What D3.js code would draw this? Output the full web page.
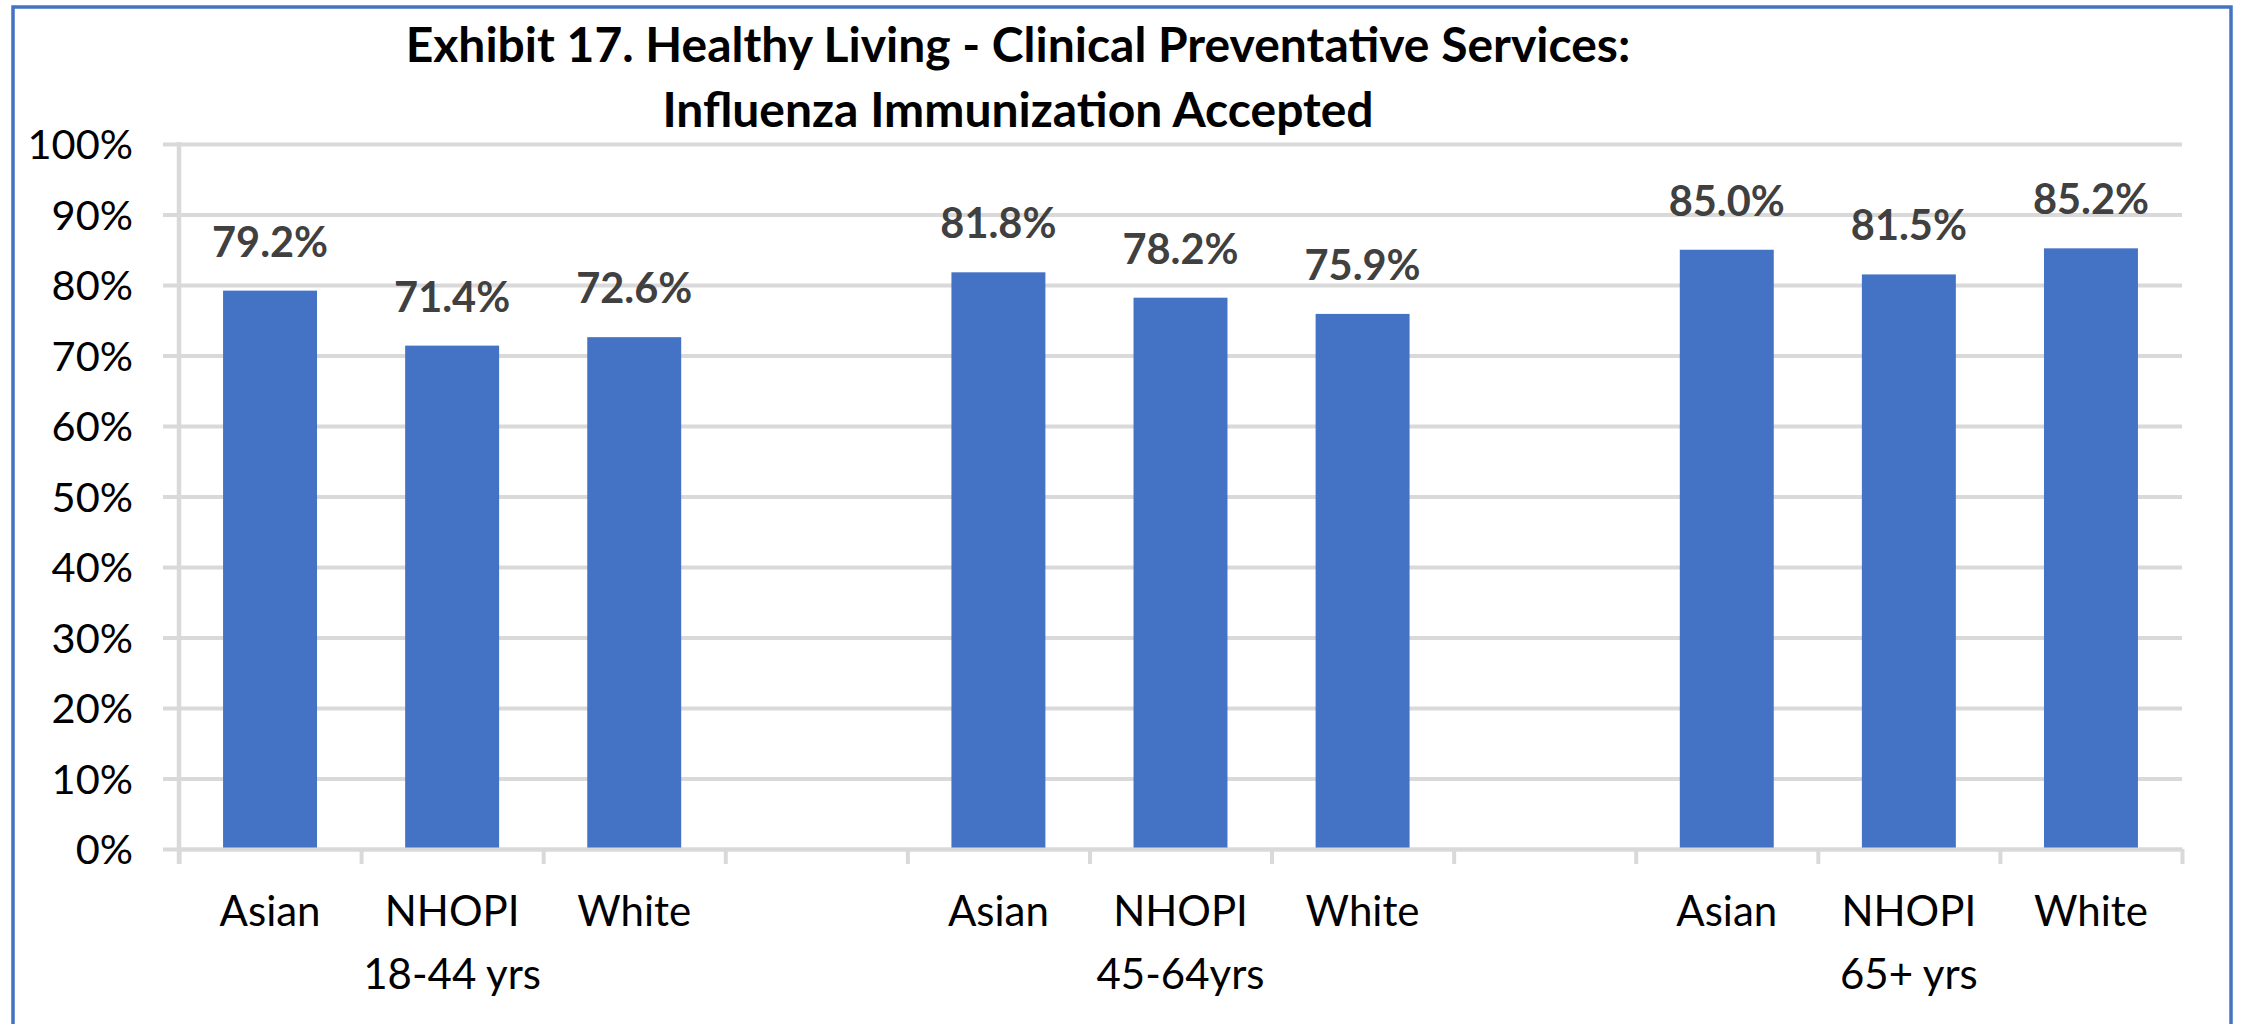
<!DOCTYPE html>
<html>
<head>
<meta charset="utf-8">
<script src="https://cdn.jsdelivr.net/npm/d3@7"></script>
<style>
  html, body { margin: 0; padding: 0; background: #fff; }
  svg { display: block; }
  text { font-family: Lato, "Open Sans", sans-serif; }
</style>
</head>
<body>
<svg id="chart" width="2242" height="1024"></svg>
<script>
// Age groups, race categories within each group, and accepted-immunization rates (%)
const groups = ["18-44 yrs", "45-64yrs", "65+ yrs"];
const races = ["Asian", "NHOPI", "White"];
const asianValues = [79.2, 81.8, 85.0];
const nhopiValues = [71.4, 78.2, 81.5];
const whiteValues = [72.6, 75.9, 85.2];
const yTickValues = [0, 10, 20, 30, 40, 50, 60, 70, 80, 90, 100];
const titleLines = [
  "Exhibit 17. Healthy Living - Clinical Preventative Services:",
  "Influenza Immunization Accepted"
];

const seriesByRace = { Asian: asianValues, NHOPI: nhopiValues, White: whiteValues };

// One slot per bar, with an empty spacer slot between age groups
const slots = [];
groups.forEach((g, gi) => {
  races.forEach(r => slots.push({ key: g + "|" + r, group: g, race: r, value: seriesByRace[r][gi] }));
  if (gi < groups.length - 1) slots.push({ key: "gap" + gi, spacer: true });
});

const plot = { left: 179, right: 2182, top: 144, bottom: 849 };
const barColor = "#4472C4";
const gridColor = "#d9d9d9";
const labelSize = "41.5px";

const svg = d3.select("#chart");

// Outer chart frame (bottom edge lies below the visible area)
svg.append("rect")
  .attr("x", 13).attr("y", 7)
  .attr("width", 2218).attr("height", 1040)
  .attr("fill", "none")
  .attr("stroke", barColor)
  .attr("stroke-width", 3.5);

const x = d3.scaleBand()
  .domain(slots.map(s => s.key))
  .range([plot.left, plot.right])
  .paddingInner(0).paddingOuter(0);

const slotEdge = d3.scaleLinear()
  .domain([0, slots.length])
  .range([plot.left, plot.right]);

const y = d3.scaleLinear()
  .domain([0, 100])
  .range([plot.bottom, plot.top]);

// Horizontal gridlines + percent labels
const gridExtend = 16;
const yAxis = d3.axisLeft(y)
  .tickValues(yTickValues)
  .tickFormat(d => d + "%")
  .tickSize(plot.right - plot.left + gridExtend)
  .tickPadding(30);

const gy = svg.append("g")
  .attr("transform", `translate(${plot.right},0)`)
  .call(yAxis);
gy.select(".domain").remove();
gy.selectAll(".tick line")
  .attr("stroke", gridColor)
  .attr("stroke-width", 4);
gy.selectAll(".tick text")
  .attr("fill", "#000")
  .style("font-size", labelSize)
  .attr("dy", "0.36em");

// Bars
const barWidth = x.bandwidth() * 0.516;
const bars = slots.filter(s => !s.spacer);

svg.append("g").selectAll("rect")
  .data(bars)
  .join("rect")
  .attr("x", d => x(d.key) + (x.bandwidth() - barWidth) / 2)
  .attr("width", barWidth)
  .attr("y", d => y(d.value))
  .attr("height", d => y(0) - y(d.value))
  .attr("fill", barColor);

// Category axis: tick marks at every slot boundary
const xAxis = d3.axisBottom(slotEdge)
  .tickValues(d3.range(slots.length + 1))
  .tickFormat("")
  .tickSize(15)
  .tickSizeOuter(0);

const gx = svg.append("g")
  .attr("transform", `translate(0,${plot.bottom})`)
  .call(xAxis);
gx.select(".domain")
  .attr("stroke", gridColor)
  .attr("stroke-width", 4);
gx.selectAll(".tick line")
  .attr("stroke", gridColor)
  .attr("stroke-width", 4);

// Value axis line
svg.append("line")
  .attr("x1", plot.left).attr("x2", plot.left)
  .attr("y1", y(100) - 2).attr("y2", plot.bottom + 15)
  .attr("stroke", gridColor)
  .attr("stroke-width", 4.5);

// Value labels above bars
svg.append("g").selectAll("text")
  .data(bars)
  .join("text")
  .attr("x", d => x(d.key) + x.bandwidth() / 2)
  .attr("y", d => y(d.value) - 34)
  .attr("text-anchor", "middle")
  .attr("fill", "#404040")
  .style("font-size", labelSize)
  .style("font-weight", "bold")
  .text(d => d.value.toFixed(1) + "%");

// Race labels under each bar
svg.append("g").selectAll("text")
  .data(bars)
  .join("text")
  .attr("x", d => x(d.key) + x.bandwidth() / 2)
  .attr("y", 926)
  .attr("text-anchor", "middle")
  .attr("fill", "#000")
  .style("font-size", "42px")
  .text(d => d.race);

// Age-group labels centred under the middle bar of each group
svg.append("g").selectAll("text")
  .data(groups)
  .join("text")
  .attr("x", g => x(g + "|" + races[1]) + x.bandwidth() / 2)
  .attr("y", 989)
  .attr("text-anchor", "middle")
  .attr("fill", "#000")
  .style("font-size", "42px")
  .text(g => g);

// Title
svg.append("g").selectAll("text")
  .data(titleLines)
  .join("text")
  .attr("x", 1018)
  .attr("y", (d, i) => 62 + i * 65)
  .attr("text-anchor", "middle")
  .attr("fill", "#000")
  .style("font-size", "48px")
  .style("font-weight", "bold")
  .text(d => d);
</script>
</body>
</html>
